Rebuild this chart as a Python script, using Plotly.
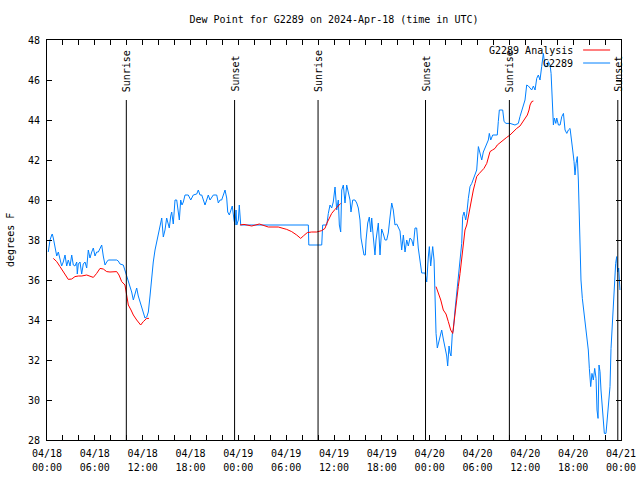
import pandas as pd
import plotly.graph_objects as go

# ---------------- data ----------------
START = "2024-04-18 00:00"
obs_hours = [0.16, 0.38, 0.59, 0.66, 0.79, 1.00, 1.22, 1.42, 1.63, 1.84, 2.04, 2.26, 2.47, 2.67, 2.89,
             3.10, 3.30, 3.51, 3.73, 3.80, 3.93, 4.14, 4.35, 4.55, 4.77, 4.98, 5.18, 5.39, 5.61, 5.81,
             6.02, 6.23, 6.44, 6.65, 6.86, 7.06, 7.28, 7.49, 7.69, 8.15, 8.74, 8.94, 9.16, 9.57, 9.78,
             10.00, 10.20, 10.41, 10.62, 10.83, 11.04, 11.25, 11.45, 11.67, 11.88, 12.08, 12.29, 12.51,
             12.71, 12.92, 13.13, 13.33, 13.55, 13.76, 13.96, 14.17, 14.39, 14.59, 14.80, 15.01, 15.18,
             15.34, 15.52, 15.64, 15.84, 16.06, 16.27, 16.47, 16.60, 16.77, 16.93, 17.10, 17.31, 17.72,
             18.03, 18.35, 18.78, 18.98, 19.19, 19.41, 19.61, 19.82, 20.03, 20.23, 20.45, 20.66, 20.86,
             21.29, 21.49, 21.70, 21.91, 22.12, 22.33, 22.54, 22.67, 22.87, 23.04, 23.24, 23.46, 23.58,
             23.71, 23.80, 24.00, 24.12, 24.30, 32.78, 32.84, 34.46, 34.58, 35.09, 35.29, 35.50, 35.71,
             35.91, 36.13, 36.34, 36.54, 36.67, 36.84, 36.97, 37.17, 37.38, 37.59, 37.79, 38.01, 38.13,
             38.35, 38.63, 38.85, 39.05, 39.26, 39.39, 39.60, 39.76, 39.93, 40.02, 40.23, 40.43, 40.61,
             40.73, 40.93, 41.14, 41.27, 41.43, 41.56, 41.77, 41.98, 42.19, 42.40, 42.61, 42.81, 43.03,
             43.24, 43.44, 43.65, 43.87, 44.07, 44.28, 44.49, 44.70, 44.91, 45.12, 45.32, 45.53, 45.75,
             45.95, 46.16, 46.37, 46.57, 46.79, 47.00, 47.42, 47.54, 47.63, 47.83, 47.96, 48.13, 48.26,
             48.38, 48.55, 48.67, 48.80, 48.96, 49.09, 49.30, 49.51, 49.71, 49.92, 50.14, 50.26, 50.43,
             50.55, 50.68, 50.84, 50.97, 51.18, 51.39, 51.59, 51.81, 52.02, 52.14, 52.31, 52.52, 52.65,
             52.85, 53.06, 53.28, 53.48, 53.69, 53.90, 54.11, 54.32, 54.53, 54.73, 54.94, 55.16, 55.36,
             55.48, 55.66, 55.91, 56.20, 56.48, 56.61, 56.74, 57.16, 57.33, 57.58, 58.08, 58.70, 59.12,
             59.33, 59.55, 59.75, 59.96, 60.17, 60.38, 60.80, 61.01, 61.22, 61.43, 61.63, 61.84, 62.05,
             62.26, 62.47, 62.68, 62.89, 63.10, 63.23, 63.31, 63.44, 63.52, 63.64, 63.82, 63.94, 64.15,
             64.36, 64.57, 64.78, 64.98, 65.20, 65.40, 65.61, 65.74, 65.94, 66.11, 66.23, 66.36, 66.52,
             66.65, 66.78, 66.86, 66.98, 67.15, 67.36, 67.57, 67.78, 67.90, 68.03, 68.20, 68.36, 68.53,
             68.70, 68.87, 68.99, 69.12, 69.24, 69.37, 69.49, 69.62, 69.78, 69.91, 70.12, 70.28, 70.46,
             70.62, 70.75, 70.91, 71.04, 71.21, 71.33, 71.46, 71.58, 71.71, 71.87]
obs_dewpt = [37.4, 38.0, 38.25, 38.3, 38.1, 37.7, 37.2, 37.4, 37.1, 36.7, 36.9, 37.25, 36.7, 37.0, 36.7,
             37.25, 36.75, 36.7, 36.9, 36.3, 36.8, 36.9, 36.3, 36.8, 36.9, 36.6, 37.5, 37.1, 37.4, 37.6,
             37.2, 37.4, 37.4, 37.6, 37.75, 37.2, 36.75, 36.9, 37.0, 37.0, 37.0, 36.95, 36.8, 36.75, 36.5,
             36.25, 36.0, 35.75, 35.4, 35.0, 35.25, 35.6, 35.2, 34.9, 34.65, 34.3, 34.1, 34.15,
             34.4, 35.2, 36.2, 36.9, 37.5, 37.9, 38.3, 38.8, 39.1, 38.15, 38.5, 39.1, 38.9,
             38.6, 39.2, 39.4, 38.8, 40.0, 40.0, 39.3, 39.0, 40.0, 39.75, 39.9, 40.25, 40.25,
             40.0, 40.25, 40.3, 40.5, 40.25, 40.25, 40.0, 39.75, 40.0, 40.25, 40.0, 40.15, 40.25,
             40.25, 39.85, 40.0, 40.0, 40.25, 40.5, 40.1, 39.4, 39.25, 39.5, 39.7, 39.0, 38.75,
             39.5, 38.75, 39.0, 39.75, 38.75, 38.75, 37.75, 37.75, 38.75, 38.75, 39.33, 39.75, 39.6,
             39.9, 40.65, 39.5, 40.0, 38.75, 38.4, 40.5, 40.75, 39.85, 40.75, 40.35, 40.0, 39.4,
             40.0, 40.0, 39.85, 39.6, 39.0, 38.1, 37.6, 37.25, 37.25, 38.0, 38.85, 39.15, 38.4,
             39.1, 38.15, 37.25, 38.0, 38.4, 38.85, 37.25, 38.55, 38.3, 38.0, 38.0, 38.35, 39.15,
             39.85, 39.5, 38.75, 38.8, 38.6, 38.45, 37.5, 38.25, 37.4, 38.0, 37.7, 38.1, 38.0,
             37.7, 38.6, 38.6, 37.6, 37.0, 36.35, 36.35, 36.0, 35.9, 37.15, 37.67, 36.7, 37.3,
             37.67, 37.0, 35.0, 33.33, 32.6, 32.85, 33.2, 33.5, 33.05, 32.7, 32.2, 31.7, 32.7,
             32.35, 32.2, 33.3, 33.5, 34.5, 35.33, 36.1, 36.8, 37.83, 39.17, 39.4, 39.0, 39.3,
             40.08, 40.67, 40.83, 41.08, 41.33, 41.5, 42.67, 42.25, 42.0, 42.4, 42.58, 42.83, 43.0,
             43.33, 43.0, 43.25, 43.25, 43.25, 43.92, 44.5, 44.5, 43.92, 43.83, 43.83, 43.75, 43.83,
             44.17, 44.5, 44.75, 45.0, 45.75, 45.7, 45.5, 45.7, 45.5, 46.08, 46.25, 46.0, 46.67,
             47.33, 46.67, 46.67, 46.92, 46.75, 46.33, 45.5, 44.67, 43.75, 44.1, 43.83, 44.1, 43.75,
             43.75, 44.17, 44.33, 43.5, 43.33, 43.5, 43.58, 43.25, 42.5, 41.92, 41.25, 41.83, 42.17,
             41.0, 38.83, 37.17, 36.0, 35.08, 34.33, 33.67, 33.17, 32.5, 31.58, 30.67, 31.33, 31.0,
             31.58, 31.08, 29.5, 29.08, 31.75, 31.42, 30.5, 29.67, 28.83, 28.33, 28.33, 29.08, 29.58,
             30.67, 32.58, 33.83, 35.17, 36.0, 36.83, 37.17, 36.4, 36.6, 35.5]

ana_hours = [0.79, 1.22, 1.63, 2.04, 2.47, 2.67, 3.10, 3.51, 3.93, 4.35, 4.98, 5.39, 5.81, 6.23, 6.65,
             7.06, 7.49, 7.90, 8.32, 8.74, 9.03, 9.37, 9.78, 10.00, 10.20, 10.54, 10.83, 11.25, 11.75,
             12.08, 12.51, 12.79, None,
             24.20, 24.71, 25.68, 26.63, 27.76, 29.01, 30.07, 30.69, 31.32, 31.82, 32.15, 32.65, 33.20,
             33.83, 34.46, 34.87, 35.09, 35.41, 35.71, 36.13, 36.54, 36.84, None,
             48.80, 49.39, 49.71, 50.05, 50.34, 50.64, 50.89, 51.05, 51.18, 51.39, 51.59, 51.81, 52.02,
             52.22, 52.43, 52.65, 52.85, 53.06, 53.28, 53.48, 53.69, 53.90, 54.23, 54.53, 54.81, 55.16,
             55.36, 55.57, 55.88, 56.20, 56.48, 56.82, 57.24, 57.66, 58.08, 58.50, 58.92, 59.33, 59.75,
             60.09, 60.25, 60.46, 60.59, 60.80, 61.01]
ana_dewpt = [37.08, 36.92, 36.67, 36.42, 36.2, 36.03, 36.05, 36.17, 36.2, 36.2, 36.25, 36.2, 36.13, 36.33,
             36.58, 36.55, 36.42, 36.4, 36.42, 36.42, 36.25, 35.92, 35.75, 35.17, 34.75, 34.5, 34.25,
             34.0, 33.75, 33.92, 34.08, 34.08, None,
             38.75, 38.78, 38.7, 38.8, 38.65, 38.65, 38.53, 38.42, 38.25, 38.08, 38.2, 38.37, 38.4,
             38.4, 38.47, 38.58, 38.83, 39.08, 39.33, 39.53, 39.7, 39.83, None,
             35.67, 35.0, 34.5, 34.3, 33.92, 33.5, 33.33, 33.9, 34.42, 35.0, 35.67, 36.33, 37.0,
             37.67, 38.5, 38.75, 39.2, 39.67, 40.08, 40.5, 40.83, 41.17, 41.33, 41.45, 41.58, 41.83,
             42.17, 42.42, 42.5, 42.58, 42.75, 42.87, 43.0, 43.13, 43.25, 43.42, 43.58, 43.7, 43.95,
             44.1, 44.25, 44.5, 44.75, 44.92, 44.95]

event_hours = [9.95, 23.53, 34.0, 47.48, 58.0, 71.6]
event_names = ["Sunrise", "Sunset", "Sunrise", "Sunset", "Sunrise", "Sunset"]
event_top = 45

series_names = ["G2289 Analysis", "G2289"]
series_colors = ["#ff0000", "#0080ff"]
title_text = "Dew Point for G2289 on 2024-Apr-18 (time in UTC)"
y_label = "degrees F"

# ---------------- build ----------------
base = pd.Timestamp(START)
end = base + pd.Timedelta(hours=72)


def to_time(hours):
    return [None if h is None else base + pd.Timedelta(hours=h) for h in hours]


FONT = "DejaVu Sans Mono"
TF = dict(family=FONT, size=10, color="black")
fig = go.Figure()
fig.add_trace(go.Scatter(x=to_time(obs_hours), y=obs_dewpt, mode="lines", name=series_names[1],
                         line=dict(color=series_colors[1], width=1), connectgaps=False))
fig.add_trace(go.Scatter(x=to_time(ana_hours), y=ana_dewpt, mode="lines", name=series_names[0],
                         line=dict(color=series_colors[0], width=1), connectgaps=False))
# carrier for second row of time labels
fig.add_trace(go.Scatter(x=[base, end], y=[None, None], xaxis="x2", mode="lines",
                         showlegend=False, hoverinfo="skip"))

for h, name in zip(event_hours, event_names):
    t = base + pd.Timedelta(hours=h)
    fig.add_shape(type="line", x0=t, x1=t, y0=28, y1=event_top, xref="x", yref="y",
                  line=dict(color="black", width=1))
    fig.add_annotation(x=t, y=event_top, xref="x", yref="y", text=name, textangle=-90,
                       showarrow=False, xanchor="center", yanchor="bottom", yshift=6, font=TF)

# manual gnuplot-style key
key_y = [0.975, 0.9425]
for name, col, ky in zip(series_names, series_colors, key_y):
    fig.add_annotation(x=0.919, y=ky, xref="paper", yref="paper", text=name, showarrow=False,
                       xanchor="right", yanchor="middle", font=TF)
    fig.add_shape(type="line", x0=0.934, x1=0.981, y0=ky, y1=ky, xref="paper", yref="paper",
                  line=dict(color=col, width=1))

fig.add_annotation(x=-0.0645, y=0.5, xref="paper", yref="paper", text=y_label, textangle=-90,
                   showarrow=False, xanchor="center", yanchor="middle", font=TF)

fig.update_layout(
    width=640, height=480,
    margin=dict(l=47, r=19, t=40, b=40, autoexpand=False),
    paper_bgcolor="white", plot_bgcolor="white",
    showlegend=False, hovermode=False,
    font=TF,
    title=dict(text=title_text, x=0.5, xref="paper", xanchor="center",
               y=1 - 19 / 480, yref="container", yanchor="middle", font=TF),
    xaxis=dict(
        type="date", range=[base, end], automargin=False,
        dtick=6 * 3600 * 1000, tick0=base, tickformat="%m/%d",
        ticks="inside", ticklen=5, tickcolor="black", ticklabelstandoff=4,
        minor=dict(dtick=2 * 3600 * 1000, ticks="inside", ticklen=5, tickcolor="black", showgrid=False),
        showline=True, linecolor="black", linewidth=1, mirror="ticks",
        showgrid=False, zeroline=False, tickfont=TF,
    ),
    xaxis2=dict(
        type="date", range=[base, end], automargin=False, overlaying="x", side="bottom", anchor="y",
        dtick=6 * 3600 * 1000, tick0=base, tickformat="%H:%M",
        ticks="", ticklabelstandoff=20,
        showline=False, showgrid=False, zeroline=False, tickfont=TF,
    ),
    yaxis=dict(
        range=[28, 48], dtick=2, tick0=28, automargin=False,
        ticks="inside", ticklen=5, tickcolor="black", ticklabelstandoff=4,
        showline=True, linecolor="black", linewidth=1, mirror="ticks",
        showgrid=False, zeroline=False, tickfont=TF,
    ),
)

fig.write_html("out.html", config={"displayModeBar": False, "staticPlot": True},
               post_script="document.body.style.margin='0';")
